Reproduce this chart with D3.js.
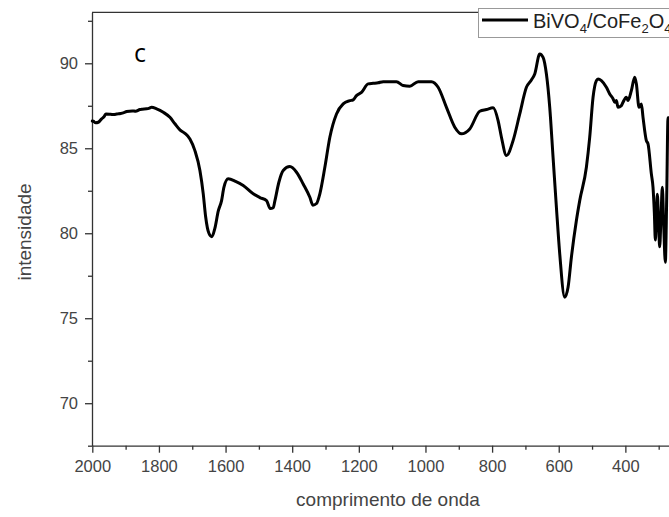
<!DOCTYPE html>
<html>
<head>
<meta charset="utf-8">
<script src="https://cdn.jsdelivr.net/npm/d3@7"></script>
<style>
  html, body { margin: 0; padding: 0; background: #fff; }
  svg { display: block; }
  text { font-family: "Liberation Sans", Arial, sans-serif; }
</style>
</head>
<body>
<svg id="chart" width="669" height="517"></svg>
<script>
// ---- data ----
const wavenumber = [
  2000, 1997, 1990, 1982, 1972, 1965, 1959, 1945, 1935, 1927, 1915, 1905, 1897, 1880, 1870, 1857, 1850, 1837, 1830, 1822, 1807, 1787, 1767, 1752, 1737, 1722, 1707, 1692, 1677, 1667, 1660, 1650, 1641, 1632, 1622, 1612, 1605, 1592, 1570, 1547, 1517, 1497, 1477, 1466, 1457, 1452, 1440, 1427, 1407, 1387, 1367, 1347, 1338, 1327, 1317, 1302, 1287, 1267, 1247, 1227, 1217, 1207, 1192, 1172, 1157, 1142, 1127, 1087, 1067, 1047, 1022, 982, 962, 937, 912, 892, 867, 837, 817, 797, 782, 772, 757, 737, 717, 697, 682, 672, 657, 647, 637, 627, 617, 607, 597, 582, 572, 562, 547, 537, 517, 507, 497, 487, 482, 472, 457, 447, 437, 432, 427, 422, 412, 407, 397, 392, 382, 372, 367, 359, 352, 347, 337, 332, 322, 317, 313, 310, 307, 304, 300, 297, 293, 289, 285, 280, 276, 272, 265
];
const intensity = [
  86.6, 86.59, 86.5, 86.53, 86.73, 86.85, 87.02, 87.0, 86.98, 87.02, 87.05, 87.1, 87.16, 87.2, 87.18, 87.28, 87.3, 87.32, 87.35, 87.41, 87.32, 87.12, 86.82, 86.44, 86.08, 85.88, 85.55, 84.86, 83.69, 82.32, 81.0, 80.0, 79.8, 80.3, 81.3, 81.92, 82.7, 83.2, 83.05, 82.81, 82.32, 82.1, 81.92, 81.45, 81.5, 81.9, 83.0, 83.69, 83.92, 83.59, 82.9, 82.12, 81.65, 81.75, 82.32, 83.88, 85.65, 87.02, 87.61, 87.8, 87.85, 88.1, 88.29, 88.79, 88.82, 88.85, 88.92, 88.92, 88.69, 88.65, 88.92, 88.92, 88.59, 87.41, 86.24, 85.85, 86.14, 87.18, 87.28, 87.38, 86.63, 85.65, 84.57, 85.45, 87.02, 88.59, 89.02, 89.37, 90.55, 90.35, 89.37, 87.41, 84.47, 81.53, 78.79, 76.24, 76.82, 78.59, 80.75, 81.92, 83.88, 85.65, 88.0, 88.98, 89.08, 88.98, 88.59, 88.2, 87.91, 87.71, 87.81, 87.41, 87.51, 87.71, 88.0, 87.81, 88.39, 89.18, 88.79, 87.41, 87.61, 86.82, 85.45, 85.26, 83.49, 82.7, 81.2, 79.6, 80.9, 82.3, 80.4, 79.2, 81.0, 82.7, 80.5, 78.3, 82.0, 86.8, 86.75
];
const seriesName = ["BiVO", "4", "/CoFe", "2", "O", "4"];
const xMajorTicks = [2000, 1800, 1600, 1400, 1200, 1000, 800, 600, 400];
const xMinorTicks = [1900, 1700, 1500, 1300, 1100, 900, 700, 500, 300];
const yMajorTicks = [70, 75, 80, 85, 90];
const yMinorTicks = [67.5, 72.5, 77.5, 82.5, 87.5, 92.5];
const xDomain = [2000, 200];
const yDomain = [67.5, 93];
const xTitle = "comprimento de onda";
const yTitle = "intensidade";
const panelLabel = "c";

// ---- layout ----
const svg = d3.select("#chart");
const L = 92, R = 692, T = 12.3, B = 445.7;
const x = d3.scaleLinear().domain(xDomain).range([L + 0.3, R]);
const y = d3.scaleLinear().domain(yDomain).range([B, T]);
const axisColor = "#333";
const labelColor = "#444";

// frame top line
svg.append("line").attr("x1", L).attr("x2", 700).attr("y1", T).attr("y2", T)
  .attr("stroke", axisColor).attr("stroke-width", 1.3);

// bottom axis
const gx = svg.append("g").attr("transform", `translate(0,${B})`);
gx.call(d3.axisBottom(x).tickValues(xMajorTicks).tickSize(7).tickSizeOuter(0).tickPadding(8).tickFormat(d3.format("d")));
const gxm = svg.append("g").attr("transform", `translate(0,${B})`);
gxm.call(d3.axisBottom(x).tickValues(xMinorTicks).tickSize(4).tickSizeOuter(0).tickFormat(""));
gxm.select(".domain").remove();

// left axis
const gy = svg.append("g").attr("transform", `translate(${L},0)`);
gy.call(d3.axisLeft(y).tickValues(yMajorTicks).tickSize(7).tickSizeOuter(0).tickPadding(7).tickFormat(d3.format("d")));
const gym = svg.append("g").attr("transform", `translate(${L},0)`);
gym.call(d3.axisLeft(y).tickValues(yMinorTicks).tickSize(4).tickSizeOuter(0).tickFormat(""));
gym.select(".domain").remove();

svg.selectAll(".domain").attr("stroke", axisColor).attr("stroke-width", 1.3);
svg.selectAll(".tick line").attr("stroke", axisColor).attr("stroke-width", 1.3);
svg.selectAll(".tick text").attr("fill", labelColor).style("font-size", "16.5px")
  .style("font-family", "'Liberation Sans', Arial, sans-serif");

// axis titles
svg.append("text").attr("x", 388).attr("y", 506).attr("text-anchor", "middle")
  .attr("fill", labelColor).style("font-size", "19px").text(xTitle);
svg.append("text").attr("transform", "translate(31,232) rotate(-90)").attr("text-anchor", "middle")
  .attr("fill", labelColor).style("font-size", "19px").text(yTitle);

// data line
const pts = wavenumber.map((w, i) => [w, intensity[i]]);
svg.append("path").datum(pts)
  .attr("fill", "none").attr("stroke", "#000").attr("stroke-width", 3)
  .attr("stroke-linejoin", "round").attr("stroke-linecap", "round")
  .attr("d", d3.line().x(d => x(d[0])).y(d => y(d[1])).curve(d3.curveMonotoneX));

// panel label
svg.append("text").attr("x", 134).attr("y", 62).attr("fill", "#000")
  .style("font-family", "'Open Sans', 'Noto Sans', sans-serif").style("font-size", "25px").text(panelLabel);

// legend
const lg = svg.append("g");
lg.append("rect").attr("x", 478.5).attr("y", 8.5).attr("width", 230).attr("height", 29)
  .attr("fill", "#fff").attr("stroke", "#999").attr("stroke-width", 1);
lg.append("line").attr("x1", 482).attr("x2", 528).attr("y1", 20).attr("y2", 20)
  .attr("stroke", "#000").attr("stroke-width", 3);
const lt = lg.append("text").attr("x", 533).attr("y", 28).attr("fill", "#222").style("font-size", "20px");
seriesName.forEach((s, i) => {
  const isSub = i % 2 === 1;
  lt.append("tspan").text(s)
    .attr("dy", isSub ? 5 : (i === 0 ? 0 : -5))
    .style("font-size", isSub ? "13px" : "20px");
});
</script>
</body>
</html>
